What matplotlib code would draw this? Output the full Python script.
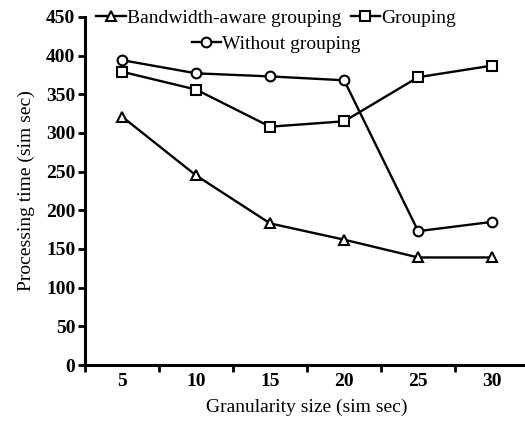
import matplotlib.pyplot as plt
import numpy as np

plt.rcParams['font.family'] = ['Liberation Serif', 'DejaVu Serif']

granularity = ['5', '10', '15', '20', '25', '30']
bw_aware = [321, 245, 183, 162, 139, 139]
grouping = [379, 356, 308, 315, 372, 387]
without = [394, 377, 373, 368, 173, 185]

x = np.arange(len(granularity))

fig = plt.figure(figsize=(5.25, 4.21), dpi=100)
ax = fig.add_axes([0.162, 0.133, 0.846, 0.827])

mk = dict(color='black', lw=1.7, markerfacecolor='white', markeredgecolor='black',
          markeredgewidth=1.5, markersize=7)
l1, = ax.plot(x, bw_aware, marker='^', label='Bandwidth-aware grouping', **mk)
l2, = ax.plot(x, grouping, marker='s', label='Grouping', **mk)
l3, = ax.plot(x, without, marker='o', label='Without grouping', **mk)

ax.set_xlim(-0.5, 5.5)
ax.set_ylim(0, 450)
ax.set_yticks(range(0, 451, 50))
ax.set_xticks(x)
ax.set_xticklabels(granularity)
ax.set_xticks(np.arange(-0.5, 5.6, 1), minor=True)
ax.tick_params(axis='x', which='major', length=0, pad=6)
ax.tick_params(axis='x', which='minor', length=5, width=2, direction='out')
ax.tick_params(axis='y', length=5, width=2, direction='out', pad=2)
for lab in ax.get_xticklabels() + ax.get_yticklabels():
    lab.set_fontsize(14)
    lab.set_fontweight('bold')

for s in ['top', 'right']:
    ax.spines[s].set_visible(False)
for s in ['left', 'bottom']:
    ax.spines[s].set_linewidth(2.2)

ax.set_xlabel('Granularity size (sim sec)', fontsize=14, labelpad=6)
ax.set_ylabel('Processing time (sim sec)', fontsize=14, labelpad=8)

leg1 = ax.legend(handles=[l1, l2], loc='upper center', bbox_to_anchor=(0.43, 1.045), ncol=2,
                 frameon=False, fontsize=14, handlelength=1.5, handletextpad=0.05,
                 columnspacing=0.5, borderaxespad=0)
ax.add_artist(leg1)
ax.legend(handles=[l3], loc='upper center', bbox_to_anchor=(0.43, 0.97), frameon=False,
          fontsize=14, handlelength=1.5, handletextpad=0.05, borderaxespad=0)

fig.savefig('out.png', dpi=100)
